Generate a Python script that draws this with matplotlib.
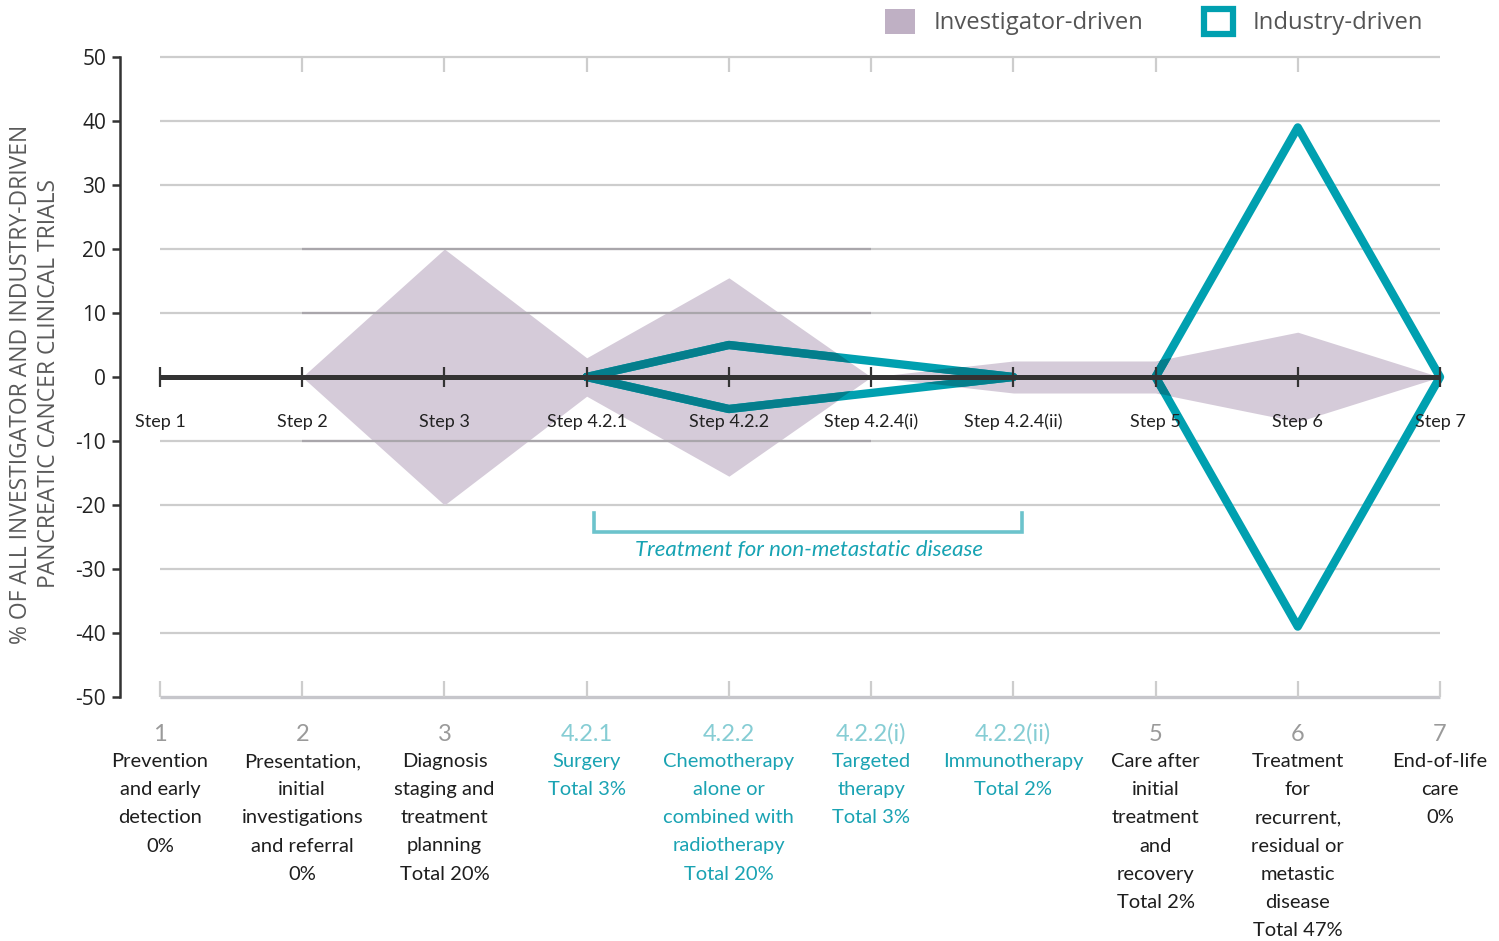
import numpy as np
import matplotlib.pyplot as plt
from matplotlib.patches import Patch

plt.rcParams['axes.unicode_minus'] = False

steps = ['Step 1', 'Step 2', 'Step 3', 'Step 4.2.1', 'Step 4.2.2', 'Step 4.2.4(i)',
         'Step 4.2.4(ii)', 'Step 5', 'Step 6', 'Step 7']
numbers = ['1', '2', '3', '4.2.1', '4.2.2', '4.2.2(i)', '4.2.2(ii)', '5', '6', '7']
descriptions = [
    'Prevention\nand early\ndetection\n0%',
    'Presentation,\ninitial\ninvestigations\nand referral\n0%',
    'Diagnosis\nstaging and\ntreatment\nplanning\nTotal 20%',
    'Surgery\nTotal 3%',
    'Chemotherapy\nalone or\ncombined with\nradiotherapy\nTotal 20%',
    'Targeted\ntherapy\nTotal 3%',
    'Immunotherapy\nTotal 2%',
    'Care after\ninitial\ntreatment\nand\nrecovery\nTotal 2%',
    'Treatment\nfor\nrecurrent,\nresidual or\nmetastic\ndisease\nTotal 47%',
    'End-of-life\ncare\n0%',
]
is_treatment = [False, False, False, True, True, True, True, False, False, False]

# half-widths of the symmetric shapes (% of trials)
investigator = [0, 0, 20, 3, 15.5, 0, 2.5, 2.5, 7, 0]
industry = [0, 0, 0, 0, 5, 2.5, 0, 0, 39, 0]

PURPLE = '#d5cbd9'
TEAL = '#00a0b0'
TEAL_DARK = '#047e8c'
TEAL_LIGHT = '#6cc3cc'
DARK = '#333333'
GRID = '#cdcdcd'
SANS = ['Lato', 'DejaVu Sans']
OPEN = ['Open Sans', 'DejaVu Sans']

x = np.arange(len(steps))
inv = np.array(investigator, dtype=float)
ind = np.array(industry, dtype=float)

W, H = 1499, 941
fig = plt.figure(figsize=(W / 100, H / 100), dpi=100)
ax = fig.add_axes([120 / W, 1 - 697 / H, 1320 / W, 640 / H])
ax.set_xlim(-40 / 142.2, x[-1])
ax.set_ylim(-50, 50)

# grid
ax.hlines([v for v in range(-40, 50, 10) if v != 0], x[0], x[-1], color=GRID, lw=1.6, zorder=1)
ax.hlines(50, x[0], x[-1], color=GRID, lw=1.6, zorder=1, clip_on=False)
ax.hlines(-50, x[0], x[-1], color='#c6c6cb', lw=2.4, zorder=1, clip_on=False)
ax.vlines(x[1:-1], 47.6, 50, color=GRID, lw=1.6, zorder=1)
ax.vlines(x, -50, -47.5, color=GRID, lw=1.6, zorder=1, clip_on=False)

# investigator-driven shape
poly = ax.fill_between(x, -inv, inv, color=PURPLE, lw=0, zorder=2, clip_on=False)
ax.hlines([20, 10, -10], 1, 5, color='#a9a6ab', lw=1.6, zorder=4)

# industry-driven outlines
active = [i for i in range(len(x) - 1) if ind[i] > 0 or ind[i + 1] > 0]
groups = []
for i in active:
    if groups and groups[-1][-1] == i:
        groups[-1].append(i + 1)
    else:
        groups.append([i, i + 1])
clip = poly.get_paths()[0]
for g in groups:
    gx = np.concatenate([x[g], x[g][::-1], x[g][:1]])
    gy = np.concatenate([ind[g], -ind[g][::-1], ind[g][:1]])
    ax.plot(gx, gy, color=TEAL, lw=6, solid_joinstyle='round',
            solid_capstyle='round', zorder=3, clip_on=False)
    dk, = ax.plot(gx, gy, color=TEAL_DARK, lw=6, solid_joinstyle='round',
                  solid_capstyle='round', zorder=3.5)
    dk.set_clip_path(clip, transform=ax.transData)

# zero axis
ax.plot([x[0], x[-1]], [0, 0], color=DARK, lw=3.6, solid_capstyle='butt', zorder=5,
        clip_on=False)
ax.vlines(x, -1.5, 1.5, color=DARK, lw=1.6, zorder=5, clip_on=False)

for xi, s in zip(x, steps):
    ax.text(xi, -7, s, ha='center', va='center', fontsize=13, color='#222222',
            family=SANS, zorder=6)

# bracket for treatment steps
ax.plot([3.05, 3.05, 6.06, 6.06], [-21.3, -24.2, -24.2, -21.3], color=TEAL_LIGHT,
        lw=2.6, solid_joinstyle='miter', zorder=5)
ax.text(4.56, -27.0, 'Treatment for non-metastatic disease', ha='center', va='center',
        fontsize=16, style='italic', color='#17a3b3', family=SANS)

# bottom labels
for xi, num, desc, tr in zip(x, numbers, descriptions, is_treatment):
    ax.text(xi, -55.8, num, ha='center', va='center', fontsize=17,
            color='#86cdd4' if tr else '#9a9a9a', family=SANS, clip_on=False)
    ax.text(xi, -58.8, desc, ha='center', va='top', fontsize=14.5, linespacing=1.79,
            color='#1aa3b3' if tr else '#1e1e1e', family=SANS, clip_on=False)

# y axis
for side in ['top', 'right', 'bottom']:
    ax.spines[side].set_visible(False)
ax.spines['left'].set_color(DARK)
ax.spines['left'].set_linewidth(1.8)
ax.set_xticks([])
ax.set_yticks(range(-50, 51, 10))
ax.tick_params(axis='y', length=6, width=1.8, color=DARK, pad=4, labelsize=15,
               labelcolor='#222222')
for lab in ax.get_yticklabels():
    lab.set_family(OPEN)

fig.text(35 / W, 1 - 384 / H,
         '% OF ALL INVESTIGATOR AND INDUSTRY-DRIVEN\nPANCREATIC CANCER CLINICAL TRIALS',
         rotation=90, ha='center', va='center', multialignment='center', fontsize=16.5,
         linespacing=1.2, color='#5a5a5a', family=OPEN)

handles = [Patch(facecolor='#bfb0c4', edgecolor='none'),
           Patch(facecolor='white', edgecolor=TEAL, linewidth=4.5, joinstyle='round')]
fig.legend(handles, ['Investigator-driven', 'Industry-driven'], loc='center right',
           bbox_to_anchor=(1423 / W, 1 - 22 / H), ncol=2, frameon=False,
           prop={'family': OPEN, 'size': 17.2}, labelcolor='#555555',
           handlelength=1.25, handleheight=1.25, handletextpad=0.8,
           columnspacing=2.5, borderpad=0, borderaxespad=0)

fig.savefig('out.png', dpi=100)
